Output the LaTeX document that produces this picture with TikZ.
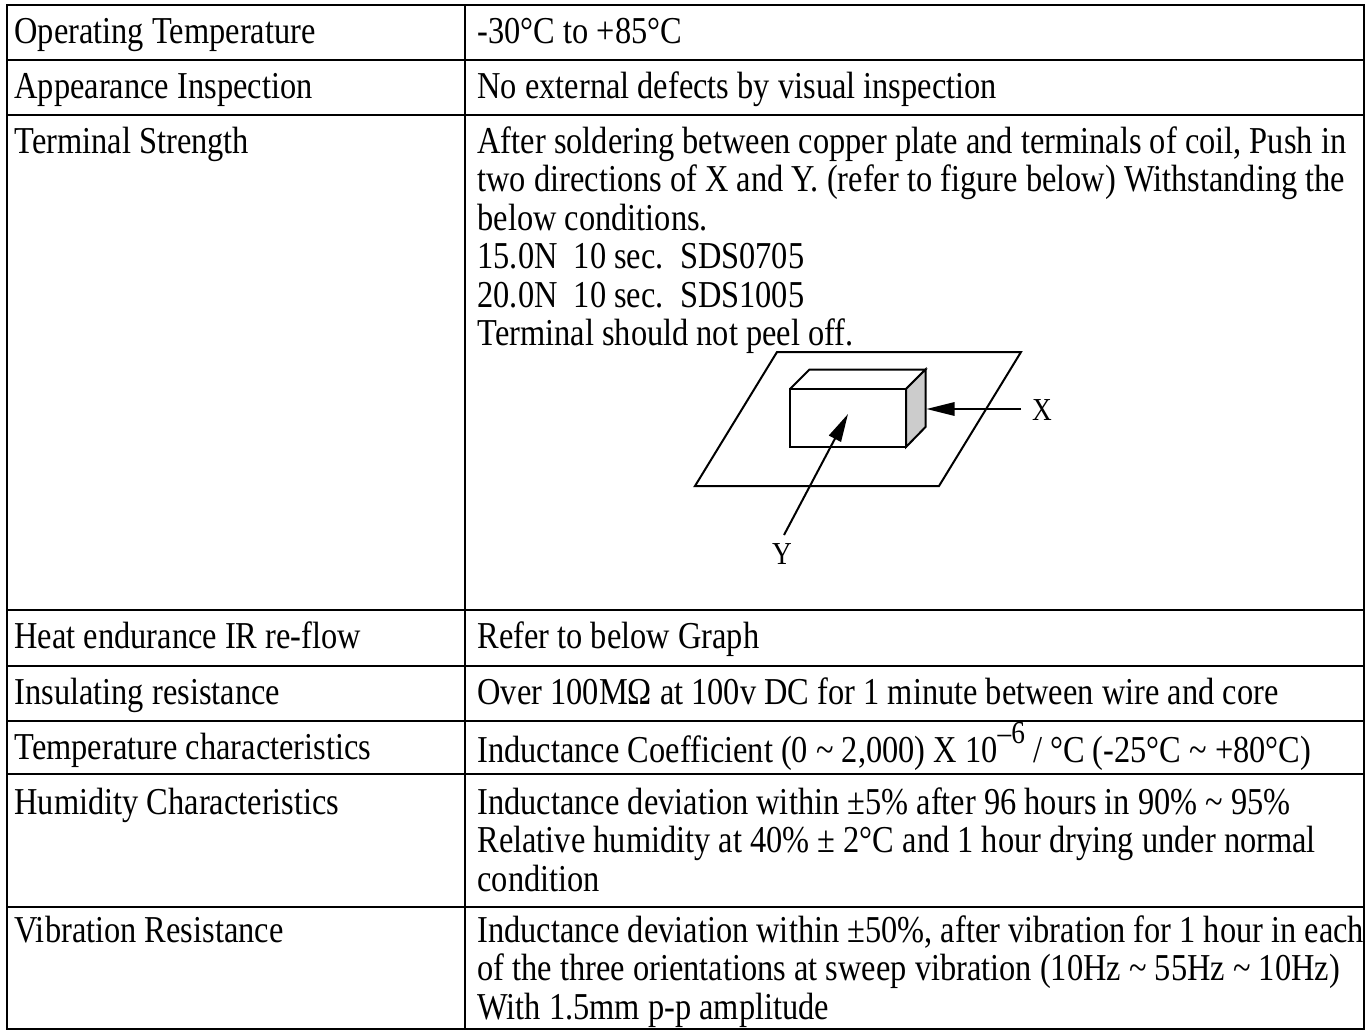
\documentclass[tikz,border=0pt]{standalone}
\usepackage{fontspec}
\setmainfont{Liberation Serif}[FakeStretch=0.853]
\usetikzlibrary{arrows.meta}
\definecolor{sidegray}{HTML}{CCCCCC}

\tikzset{
  grid line/.style={line width=1.1pt},
  fig line/.style={line width=0.75pt},
  cell/.style={anchor=base west, inner sep=0pt, font=\fontsize{14.25}{14.44}\selectfont},
  axis label/.style={inner sep=0pt, font=\fontsize{12}{12}\selectfont},
  push/.style={fig line, -{Triangle[length=10.5pt,width=5pt]}},
}

\begin{document}
\begin{tikzpicture}[x=0.375pt, y=-0.375pt]
  \useasboundingbox (0,0) rectangle (1369,1030);

  % Table frame
  \draw[grid line] (7,5) rectangle (1364,1029);
  \draw[grid line] (465,5) -- (465,1029);
  \foreach \y in {60,115,610,666,721,774,907}
    \draw[grid line] (7,\y) -- (1364,\y);

  % Left column
  \foreach \name/\y/\txt in {op/43/Operating Temperature, ap/98/Appearance Inspection,
      ts/153/Terminal Strength, he/648/Heat endurance IR re-flow,
      ir/704/Insulating resistance, tc/759/Temperature characteristics,
      hu/814/Humidity Characteristics, vr/942/Vibration Resistance}
    \node[cell] (\name-l) at (14,\y) {\txt};

  % Right column
  \node[cell] (op-r) at (477,43) {-30°C to +85°C};
  \node[cell] (ap-r) at (477,98) {No external defects by visual inspection};
  \foreach \txt [count=\i from 0] in {{After soldering between copper plate and terminals of coil, Push in},
      {two directions of X and Y. (refer to figure below) Withstanding the},
      {below conditions.},
      {15.0N\ \ 10 sec.\ \ SDS0705},
      {20.0N\ \ 10 sec.\ \ SDS1005},
      {Terminal should not peel off.}}
    \node[cell] (ts-r\i) at (477,153+38.5*\i) {\txt};
  \node[cell] (he-r) at (477,648) {Refer to below Graph};
  \node[cell] (ir-r) at (477,704) {Over 100MΩ at 100v DC for 1 minute between wire and core};
  \node[cell] (tc-r) at (477,762) {Inductance Coefficient (0 \textasciitilde{} 2,000) X 10\raisebox{7pt}{\fontsize{12}{12}\selectfont –6} / °C (-25°C \textasciitilde{} +80°C)};
  \foreach \txt [count=\i from 0] in {{Inductance deviation within ±5\% after 96 hours in 90\% \textasciitilde{} 95\%},
      {Relative humidity at 40\% ± 2°C and 1 hour drying under normal},
      {condition}}
    \node[cell] (hu-r\i) at (477,814+38.5*\i) {\txt};
  \foreach \txt [count=\i from 0] in {{Inductance deviation within ±50\%, after vibration for 1 hour in each},
      {of the three orientations at sweep vibration (10Hz \textasciitilde{} 55Hz \textasciitilde{} 10Hz)},
      {With 1.5mm p-p amplitude}}
    \node[cell] (vr-r\i) at (477,942+38.5*\i) {\txt};

  % Copper plate
  \draw[fig line] (777,352) -- (1021,352) -- (939,486) -- (695,486) -- cycle;
  % Coil body
  \draw[fig line, fill=white] (790,389) rectangle (906,447);
  \draw[fig line] (790,389) -- (809.5,369.5) -- (925.5,369.5) -- (906,389);
  \draw[fig line, fill=sidegray] (906,389) -- (925.5,369.5) -- (925.5,427) -- (906,447) -- cycle;

  % Push directions
  \coordinate (xhit) at (926.5,409);
  \coordinate (xtail) at (1021,409);
  \coordinate (yhit) at (848,414);
  \coordinate (ytail) at (784,535);
  \node[axis label] (xlab) at (1042,410) {X};
  \node[axis label] (ylab) at (782,554) {Y};
  \draw[push] (xtail) -- (xhit);
  \draw[push] (ytail) -- (yhit);
\end{tikzpicture}
\end{document}
